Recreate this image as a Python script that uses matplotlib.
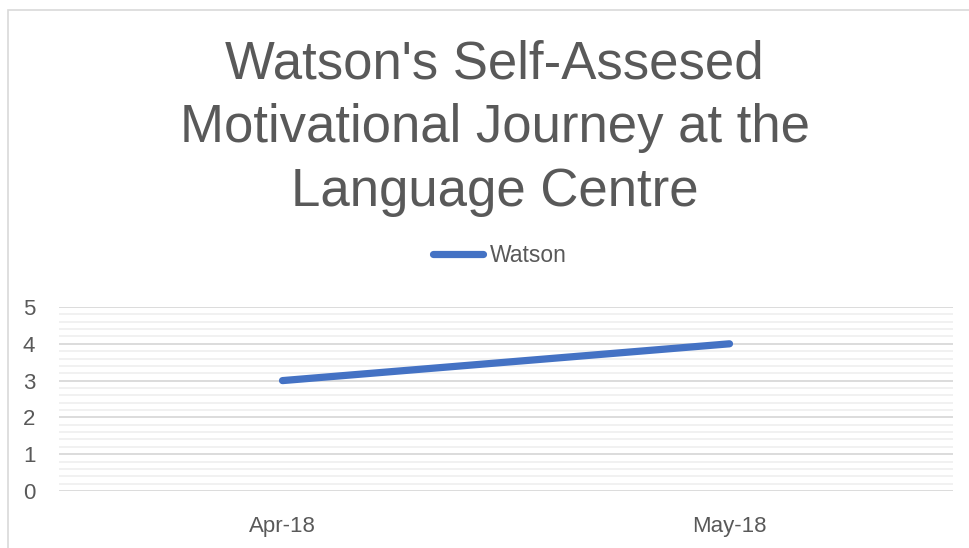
import matplotlib.pyplot as plt
from matplotlib.patches import Rectangle
from matplotlib.ticker import MultipleLocator

plt.rcParams['font.family'] = ['Liberation Sans', 'DejaVu Sans']

# data
months = ['Apr-18', 'May-18']
watson = [3, 4]

W, H = 970, 548
fig = plt.figure(figsize=(W / 100, H / 100), dpi=100)

# chart area border
fig.patches.append(Rectangle((8 / W, -0.1), 1.2, 1 - 10 / H + 0.1, transform=fig.transFigure,
                             fill=False, edgecolor='#d9d9d9', linewidth=1.2))

ax = fig.add_axes([59 / W, 1 - 491 / H, (953 - 59) / W, (491 - 307) / H])
x = list(range(len(months)))
ax.plot(x, watson, color='#4472C4', linewidth=5.2, solid_capstyle='round', label='Watson')

ax.set_xlim(-0.5, len(months) - 0.5)
ax.set_ylim(0, 5)
ax.yaxis.set_major_locator(MultipleLocator(1))
ax.yaxis.set_minor_locator(MultipleLocator(0.2))
ax.set_xticks(x)
ax.set_xticklabels(months)
ax.grid(axis='y', which='major', color='#d9d9d9', linewidth=1.3)
ax.grid(axis='y', which='minor', color='#f0f0f0', linewidth=1.3)
ax.set_axisbelow(True)
for s in ax.spines.values():
    s.set_visible(False)
ax.tick_params(axis='both', which='both', length=0, labelsize=16, colors='#595959')
ax.tick_params(axis='x', pad=18)
ax.tick_params(axis='y', pad=26)
for lbl in ax.get_yticklabels():
    lbl.set_horizontalalignment('left')

fig.text(0.51, 1 - 128 / H, "Watson's Self-Assesed\nMotivational Journey at the\nLanguage Centre",
         ha='center', va='center', fontsize=38, color='#595959', linespacing=1.35)

leg = fig.legend(loc='center', bbox_to_anchor=(500 / W, 1 - 256 / H), frameon=False,
                 fontsize=16.5, handlelength=2.2, handletextpad=0.3, labelcolor='#595959')

fig.savefig('out.png', dpi=100)
